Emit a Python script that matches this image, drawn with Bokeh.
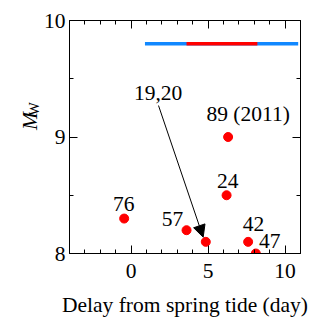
from math import pi
from bokeh.plotting import figure
from bokeh.layouts import row
from bokeh.models import (Range1d, LinearAxis, Arrow, NormalHead,
                          FixedTicker, ColumnDataSource)
from bokeh.core.properties import value
from bokeh.embed import file_html
from bokeh.resources import INLINE

# ---- data ----
event_labels = ["76", "57", "19,20", "24", "42", "47", "89 (2011)"]
delay_days = [-0.45, 3.6, 4.85, 6.2, 7.6, 8.1, 6.3]
magnitude = [8.3, 8.2, 8.1, 8.5, 8.1, 8.0, 9.0]
blue_span = [0.9, 10.85]
red_span = [3.6, 8.2]
span_level = 9.8
x_ticks = [0, 5, 10]
x_minor = list(range(-4, 12))
y_ticks = [8, 9, 10]
y_minor = [8, 8.5, 9, 9.5, 10]

# label offsets in screen px (dx right, dy down)
lab_dx = [-0.4, -14, -47.7, 1.1, 5.4, 14, 20]
lab_dy = [-15, -11.3, -149, -14.6, -18, -12.6, -23]

FONT = "Liberation Serif"
FS = "21.5px"
H = 321
LEFT_W = 40

p = figure(width=313 - LEFT_W, height=H, output_backend="svg",
           toolbar_location=None,
           x_range=Range1d(-4, 11), y_range=Range1d(8, 10),
           min_border_left=68 - LEFT_W, min_border_right=13, min_border_top=20,
           min_border_bottom=68, background_fill_color="white",
           border_fill_color="white")
p.grid.visible = False
p.outline_line_color = None

for ax in (p.xaxis[0], p.yaxis[0]):
    ax.major_tick_in = 8
    ax.major_tick_out = 0
    ax.minor_tick_in = 4
    ax.minor_tick_out = 0
    ax.axis_line_color = "black"
    ax.major_tick_line_color = "black"
    ax.minor_tick_line_color = "black"
    ax.major_label_text_font = FONT
    ax.major_label_text_font_size = FS
    ax.major_label_text_color = "black"

p.xaxis[0].major_label_standoff = 10
p.yaxis[0].major_label_standoff = 4
p.xaxis[0].ticker = FixedTicker(ticks=x_ticks, minor_ticks=x_minor)
p.yaxis[0].ticker = FixedTicker(ticks=y_ticks, minor_ticks=y_minor)
p.xaxis[0].axis_label = "Delay from spring tide (day)"
p.xaxis[0].axis_label_text_font = FONT
p.xaxis[0].axis_label_text_font_size = FS
p.xaxis[0].axis_label_text_font_style = "normal"
p.xaxis[0].axis_label_text_color = "black"
p.xaxis[0].axis_label_standoff = 12

top = LinearAxis(ticker=FixedTicker(ticks=x_ticks, minor_ticks=x_minor))
right = LinearAxis(ticker=FixedTicker(ticks=y_ticks, minor_ticks=y_minor))
for ax in (top, right):
    ax.major_tick_in = 8
    ax.major_tick_out = 0
    ax.minor_tick_in = 4
    ax.minor_tick_out = 0
    ax.major_label_text_font_size = "1px"
    ax.major_label_text_color = None
    ax.major_label_standoff = 0
    ax.axis_line_color = "black"
p.add_layout(top, "above")
p.add_layout(right, "right")

# spans
p.line(x=blue_span, y=[span_level, span_level], line_color="#1188ff", line_width=3.5)
p.line(x=red_span, y=[span_level, span_level], line_color="#ff0000", line_width=3.5)

src = ColumnDataSource(dict(x=delay_days, y=magnitude, t=event_labels,
                            dx=lab_dx, dy=lab_dy))
p.scatter(x="x", y="y", source=src, size=9, fill_color="#ff0000",
          line_color="#ff0000")
p.text(x="x", y="y", text="t", x_offset="dx", y_offset="dy", source=src,
       text_font=value(FONT), text_font_size=FS, text_align="center",
       text_baseline="alphabetic", text_color="black")

p.add_layout(Arrow(end=NormalHead(size=12, fill_color="black", line_color="black"),
                   x_start=1.78, y_start=9.27, x_end=4.68, y_end=8.14,
                   line_color="black", line_width=1))

# left strip holding the y-axis label  M_W  (pixel coordinates, y downward)
lp = figure(width=LEFT_W, height=H, output_backend="svg", toolbar_location=None,
            x_range=Range1d(0, LEFT_W), y_range=Range1d(H, 0),
            x_axis_type=None, y_axis_type=None, min_border=0,
            background_fill_color="white", border_fill_color="white")
lp.grid.visible = False
lp.outline_line_color = None
lp.text(x=[29], y=[151], text=["M"], angle=pi / 2, text_font=value(FONT),
        text_font_size=FS, text_font_style="italic", text_align="left",
        text_baseline="alphabetic", text_color="black")
lp.text(x=[33.5], y=[131], text=["W"], angle=pi / 2, text_font=value(FONT),
        text_font_size="14px", text_align="left",
        text_baseline="alphabetic", text_color="black")

layout = row(lp, p, spacing=0)
open("out.html", "w").write(file_html(layout, INLINE))
